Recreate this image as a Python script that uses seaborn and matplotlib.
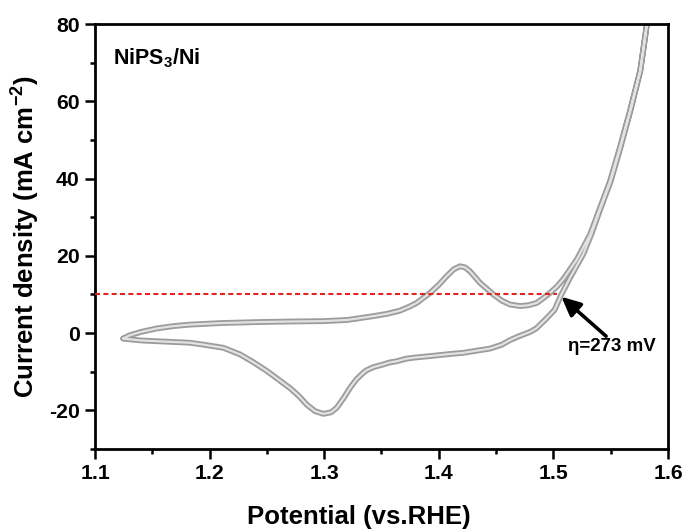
import matplotlib
matplotlib.use("Agg")
import matplotlib.pyplot as plt
import matplotlib.patheffects as pe
from matplotlib.ticker import MultipleLocator
import pandas as pd
import seaborn as sns

# Cyclic voltammogram of NiPS3/Ni: anodic sweep then cathodic return sweep
forward_potential = [1.1247, 1.130, 1.140, 1.1538, 1.168, 1.183, 1.210, 1.241, 1.270, 1.299,
                     1.320, 1.334, 1.343, 1.355, 1.366, 1.374, 1.3807, 1.3923, 1.400, 1.4069,
                     1.413, 1.4185, 1.423, 1.4272, 1.436, 1.4476, 1.455, 1.4622, 1.4709, 1.478,
                     1.4854, 1.491, 1.497, 1.503, 1.5087, 1.5203, 1.532, 1.5407, 1.5494, 1.558,
                     1.5668, 1.5756, 1.5814]
forward_current = [-1.4, -0.6, 0.3, 1.2, 1.8, 2.2, 2.6, 2.85, 3.0, 3.1,
                   3.4, 4.0, 4.4, 5.0, 5.8, 6.8, 7.8, 10.4, 12.5, 14.75,
                   16.5, 17.3, 17.0, 16.0, 13.0, 10.0, 8.4, 7.4, 7.0, 7.2,
                   7.8, 9.0, 10.4, 12.0, 14.0, 19.0, 25.5, 32.4, 39.3, 48.0,
                   57.5, 67.8, 79.5]

return_potential = [1.5814, 1.5760, 1.5672, 1.5585, 1.5500, 1.5413, 1.5330, 1.5260, 1.5145, 1.5070,
                    1.5010, 1.4930, 1.4850, 1.4796, 1.4700, 1.4622, 1.4550, 1.4447, 1.4300, 1.4214,
                    1.4100, 1.3923, 1.3800, 1.3720, 1.3630, 1.3570, 1.3516, 1.3430, 1.3370, 1.3340,
                    1.3280, 1.3225, 1.3170, 1.3110, 1.3060, 1.2992, 1.2920, 1.2847, 1.2780, 1.2700,
                    1.2600, 1.2500, 1.2380, 1.2265, 1.2120, 1.1950, 1.1830, 1.1538, 1.1400, 1.1300,
                    1.1247]
return_current = [79.5, 68.0, 57.5, 48.0, 39.3, 32.4, 25.5, 20.4, 14.3, 10.0,
                  6.0, 3.5, 1.2, 0.3, -0.8, -1.8, -3.0, -4.0, -4.7, -5.1,
                  -5.4, -5.95, -6.3, -6.6, -7.3, -7.6, -8.1, -8.8, -9.6, -10.3,
                  -12.0, -14.2, -16.8, -19.3, -20.5, -20.9, -20.2, -18.5, -16.3, -14.2,
                  -12.0, -9.8, -7.5, -5.5, -3.8, -3.0, -2.5, -2.1, -1.9, -1.6,
                  -1.4]

# OER benchmark: 10 mA cm-2 reached at an overpotential of 273 mV
ref_current = 10.0
equilibrium_potential = 1.23
overpotential_mv = 273
sample_label = r"NiPS$_{3}$/Ni"

x_ticks = [1.1, 1.2, 1.3, 1.4, 1.5, 1.6]
y_ticks = [-20, 0, 20, 40, 60, 80]

cv = pd.DataFrame({
    "potential": forward_potential + return_potential,
    "current": forward_current + return_current,
})

sns.set_theme(style="ticks")
plt.rcParams["font.family"] = ["Liberation Sans", "DejaVu Sans"]
plt.rcParams["font.weight"] = "bold"
plt.rcParams["text.color"] = "black"
plt.rcParams["axes.labelcolor"] = "black"
plt.rcParams["xtick.color"] = "black"
plt.rcParams["ytick.color"] = "black"
plt.rcParams["mathtext.fontset"] = "custom"
plt.rcParams["mathtext.rm"] = "Liberation Sans:bold"
plt.rcParams["mathtext.it"] = "Liberation Sans:bold"
plt.rcParams["mathtext.bf"] = "Liberation Sans:bold"
plt.rcParams["mathtext.default"] = "regular"

fig = plt.figure(figsize=(6.89, 5.29), dpi=100, facecolor="white")
ax = fig.add_axes([0.1379, 0.1512, 0.8316, 0.8034])

sns.lineplot(data=cv, x="potential", y="current", sort=False, estimator=None,
             color="#e2e2e2", linewidth=1.6, ax=ax,
             path_effects=[pe.Stroke(linewidth=4.2, foreground="#9c9c9c"), pe.Normal()])

e_at_ref = equilibrium_potential + overpotential_mv / 1000.0
ax.plot([1.1, e_at_ref], [ref_current, ref_current], color="#e3221f",
        linestyle=(0, (2.4, 1.6)), linewidth=1.5, zorder=3)

ax.annotate("", xy=(e_at_ref + 0.004, ref_current - 0.6), xytext=(1.546, -0.8),
            arrowprops=dict(arrowstyle="-|>,head_length=0.95,head_width=0.45",
                            color="black", lw=2.6, shrinkA=0, shrinkB=0))
ax.text(1.5125, -3.4, "\u03b7=%d mV" % overpotential_mv, ha="left", va="center",
        fontsize=13.5, fontweight="bold", color="black")
ax.text(1.116, 69.6, sample_label, ha="left", va="baseline",
        fontsize=15.5, fontweight="bold", color="black")

ax.set_xlim(1.1, 1.6)
ax.set_ylim(-30, 80)
ax.set_xticks(x_ticks)
ax.set_yticks(y_ticks)
ax.set_xticklabels([f"{v:.1f}" for v in x_ticks])
ax.set_yticklabels([str(v) for v in y_ticks])
ax.xaxis.set_minor_locator(MultipleLocator(0.05))
ax.yaxis.set_minor_locator(MultipleLocator(10))
ax.tick_params(axis="both", which="major", direction="out", length=7, width=1.8,
               labelsize=15.3, pad=4, top=False, right=False, color="black",
               labelcolor="black")
ax.tick_params(axis="both", which="minor", direction="out", length=3.5, width=1.8,
               top=False, right=False, color="black")
for lab in ax.get_xticklabels() + ax.get_yticklabels():
    lab.set_fontweight("bold")

for side in ["left", "bottom", "right", "top"]:
    ax.spines[side].set_visible(True)
    ax.spines[side].set_color("black")
    ax.spines[side].set_linewidth(2.0)

ax.set_xlabel("Potential (vs.RHE)", fontsize=18.5, fontweight="bold", color="black")
ax.xaxis.set_label_coords(0.461, -0.132)
ax.set_ylabel(r"Current density (mA cm$^{-2}$)", fontsize=18.5, fontweight="bold",
              labelpad=5, color="black")
ax.set_facecolor("white")

fig.savefig("out.png", dpi=100, facecolor="white")
